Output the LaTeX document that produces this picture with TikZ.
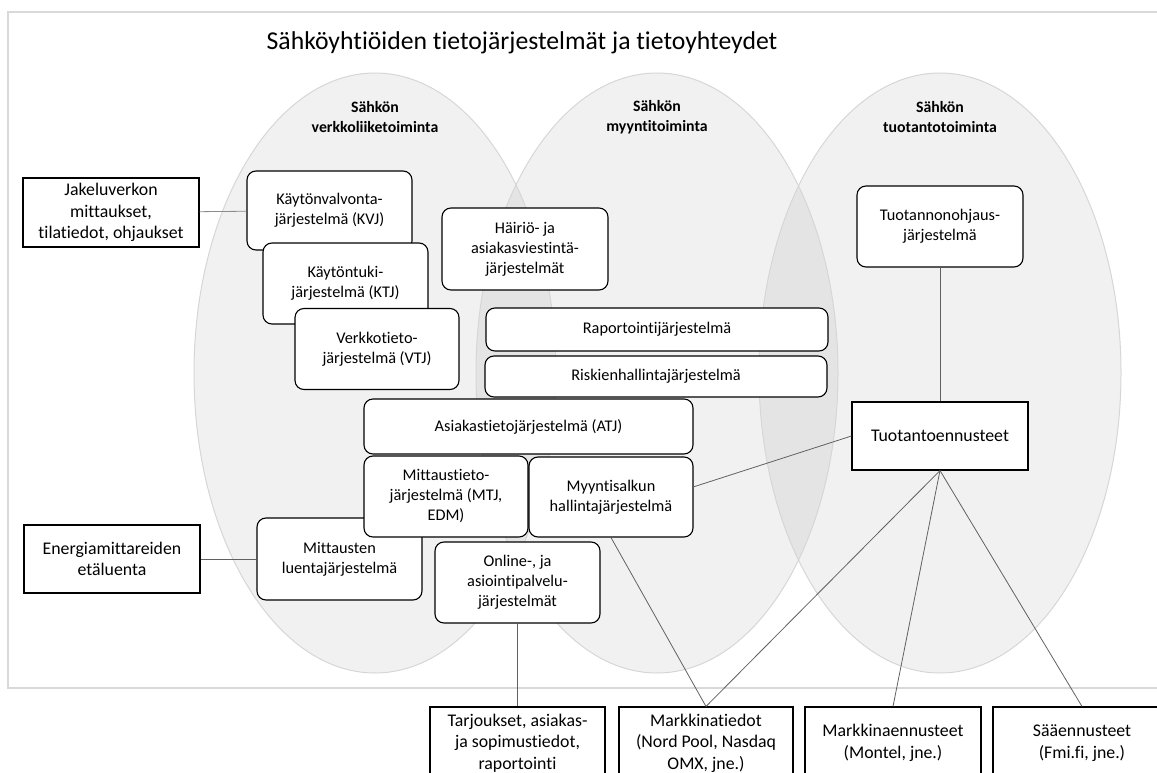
\documentclass[tikz,border=0pt]{standalone}
\usepackage{fontspec}
\setmainfont{Carlito}[Ligatures=NoCommon]
\usepackage{tikz}
\tikzstyle{sysbox} = [draw=black, line width=1.1pt, rounded corners=9pt, fill=white, align=center, inner sep=2pt, font=\fontsize{16.3}{20}\selectfont]
\tikzstyle{extbox} = [draw=black, line width=1.1pt, fill=white, align=center, inner sep=2pt, font=\fontsize{17.8}{21.5}\selectfont]
\tikzstyle{area} = [fill=black, fill opacity=0.055]
\tikzstyle{arealine} = [draw=black!16, line width=1pt]
\tikzstyle{areatitle} = [align=center, font=\bfseries\fontsize{15.8}{20}\selectfont]
\tikzstyle{link} = [draw=black!62, line width=0.8pt]

\begin{document}
\begin{tikzpicture}[x=1pt, y=-1pt]
    \useasboundingbox (0,0) rectangle (1157,773);
    \clip (0,0) rectangle (1157,773);
    \draw[draw=black!15, line width=1.2pt] (8,12) rectangle (1175,688);
    \node[font=\fontsize{25.7}{30}\selectfont] (title) at (522,43) {Sähköyhtiöiden tietojärjestelmät ja tietoyhteydet};

    % toiminta-alueet
    \path[area] (375,373) ellipse [x radius=181pt, y radius=300pt];
    \path[area] (657,373) ellipse [x radius=181pt, y radius=300pt];
    \path[area] (940,373) ellipse [x radius=181pt, y radius=300pt];
    \path[arealine] (375,373) ellipse [x radius=181pt, y radius=300pt];
    \path[arealine] (657,373) ellipse [x radius=181pt, y radius=300pt];
    \path[arealine] (940,373) ellipse [x radius=181pt, y radius=300pt];
    \node[areatitle] (verkko) at (375,117) {Sähkön\\verkkoliiketoiminta};
    \node[areatitle] (myynti) at (657,117) {Sähkön\\myyntitoiminta};
    \node[areatitle] (tuotanto) at (940,117) {Sähkön\\tuotantotoiminta};

    % järjestelmät
    \node[sysbox, minimum width=165pt, minimum height=79pt] (kvj) at (329.5,210.5) {Käytönvalvonta-\\järjestelmä (KVJ)};
    \node[sysbox, minimum width=165pt, minimum height=81pt] (ktj) at (345.5,283.5) {Käytöntuki-\\järjestelmä (KTJ)};
    \node[sysbox, minimum width=164pt, minimum height=81pt] (vtj) at (377,349) {Verkkotieto-\\järjestelmä (VTJ)};
    \node[sysbox, minimum width=166pt, minimum height=82pt] (hairio) at (525,249) {Häiriö- ja\\asiakasviestintä-\\järjestelmät};
    \node[sysbox, minimum width=342pt, minimum height=43pt] (raportti) at (657,329.5) {Raportointijärjestelmä};
    \node[sysbox, minimum width=342pt, minimum height=41pt] (riski) at (656,376.5) {Riskienhallintajärjestelmä};
    \node[sysbox, minimum width=329pt, minimum height=55pt] (atj) at (528.5,426.5) {Asiakastietojärjestelmä (ATJ)};
    \node[sysbox, minimum width=165pt, minimum height=82pt] (luenta) at (339.5,559) {Mittausten\\luentajärjestelmä};
    \node[sysbox, minimum width=164pt, minimum height=81pt] (mtj) at (446,496.5) {Mittaustieto-\\järjestelmä (MTJ,\\EDM)};
    \node[sysbox, minimum width=164pt, minimum height=80pt] (salkku) at (611,497) {Myyntisalkun\\hallintajärjestelmä};
    \node[sysbox, minimum width=165pt, minimum height=81pt] (online) at (517.5,582.5) {Online-, ja\\asiointipalvelu-\\järjestelmät};
    \node[sysbox, minimum width=166pt, minimum height=81pt] (ohjaus) at (940,226.5) {Tuotannonohjaus-\\järjestelmä};

    % ulkoiset tiedot
    \node[extbox, minimum width=176pt, minimum height=69pt] (jakelu) at (111,212.5) {Jakeluverkon\\mittaukset,\\tilatiedot, ohjaukset};
    \node[extbox, minimum width=176pt, minimum height=68pt] (energia) at (112,559) {Energiamittareiden\\etäluenta};
    \node[extbox, minimum width=176pt, minimum height=68pt] (ennuste) at (940,436) {Tuotantoennusteet};
    \node[extbox, minimum width=175pt, minimum height=72pt] (tarjous) at (517.5,743) {Tarjoukset, asiakas-\\ja sopimustiedot,\\raportointi};
    \node[extbox, minimum width=174pt, minimum height=72pt] (markt) at (706,743) {Markkinatiedot\\(Nord Pool, Nasdaq\\OMX, jne.)};
    \node[extbox, minimum width=176pt, minimum height=72pt] (markenn) at (893,743) {Markkinaennusteet\\(Montel, jne.)};
    \node[extbox, minimum width=178pt, minimum height=72pt] (saa) at (1082,743) {Sääennusteet\\(Fmi.fi, jne.)};

    % yhteydet
    \draw[link, draw=black!45] (jakelu) -- (kvj);
    \draw[link] (energia) -- (luenta);
    \draw[link] (ohjaus) -- (ennuste);
    \draw[link] (ennuste.west) -- (salkku.7);
    \draw[link] (ennuste.south) -- (markt.north);
    \draw[link] (ennuste.south) -- (markenn.north);
    \draw[link] (ennuste.south) -- (saa.north);
    \draw[link] (salkku.south) -- (markt.north);
    \draw[link] (online) -- (tarjous);
\end{tikzpicture}
\end{document}
